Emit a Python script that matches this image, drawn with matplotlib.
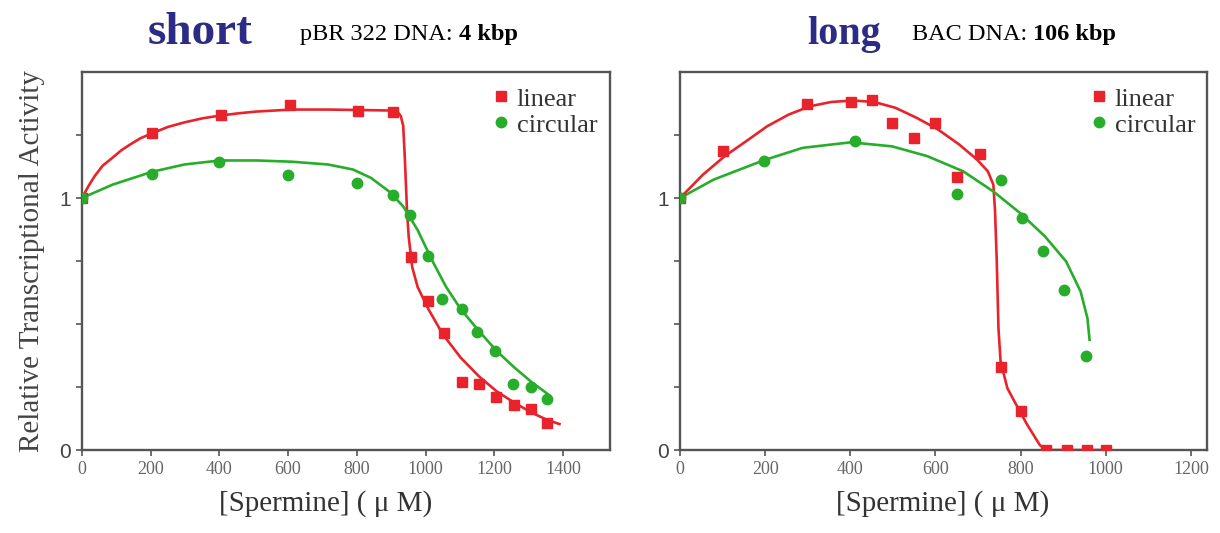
import matplotlib
matplotlib.use('Agg')
import matplotlib.pyplot as plt

# ---- short DNA (pBR322, 4 kbp) : measured points
s_lin_x = [0, 204, 405, 606, 804, 906, 958, 1006, 1053, 1107, 1157, 1205, 1257, 1306, 1355]
s_lin_y = [1.0, 1.257, 1.33, 1.37, 1.344, 1.343, 0.767, 0.59, 0.463, 0.269, 0.263, 0.209, 0.18, 0.163, 0.109]
s_cir_x = [0, 204, 400, 601, 801, 904, 954, 1006, 1048, 1107, 1149, 1201, 1254, 1306, 1353]
s_cir_y = [1.0, 1.097, 1.143, 1.091, 1.06, 1.011, 0.933, 0.769, 0.6, 0.56, 0.47, 0.393, 0.263, 0.249, 0.204]

# fitted curves
s_lin_fx = [0, 20, 37, 60, 89, 115, 141, 170, 204, 250, 298, 350, 402, 455, 507, 611, 716, 820,
            904, 918, 928, 935, 940, 946, 951, 961, 977, 1008, 1050, 1102, 1155, 1207, 1259,
            1311, 1353, 1390]
s_lin_fy = [1.0, 1.05, 1.087, 1.128, 1.16, 1.19, 1.213, 1.237, 1.257, 1.282, 1.30, 1.316, 1.327,
            1.336, 1.343, 1.351, 1.351, 1.349, 1.347, 1.343, 1.325, 1.287, 1.153, 0.953, 0.847,
            0.727, 0.647, 0.56, 0.46, 0.367, 0.293, 0.233, 0.187, 0.147, 0.12, 0.103]
s_cir_fx = [0, 89, 204, 298, 402, 507, 611, 716, 789, 841, 893, 935, 977, 1019, 1060, 1102,
            1155, 1207, 1259, 1311, 1358]
s_cir_fy = [1.0, 1.053, 1.104, 1.133, 1.149, 1.149, 1.144, 1.133, 1.113, 1.08, 1.027, 0.967,
            0.873, 0.753, 0.647, 0.56, 0.473, 0.393, 0.327, 0.267, 0.22]

# ---- long DNA (BAC, 106 kbp)
l_lin_x = [0, 100, 299, 401, 450, 499, 549, 600, 651, 704, 753, 800, 860, 908, 957, 1000]
l_lin_y = [1.0, 1.188, 1.375, 1.381, 1.389, 1.298, 1.238, 1.298, 1.083, 1.176, 0.331, 0.155, 0, 0, 0, 0]
l_cir_x = [0, 197, 410, 651, 755, 803, 853, 901, 953]
l_cir_y = [1.0, 1.146, 1.225, 1.017, 1.073, 0.921, 0.788, 0.633, 0.374]

l_lin_fx = [0, 54, 105, 155, 205, 255, 305, 355, 406, 456, 506, 556, 606, 656, 698, 723, 736,
            740, 744, 748, 753, 769, 790, 816, 845, 860, 1005]
l_lin_fy = [1.0, 1.093, 1.166, 1.225, 1.285, 1.331, 1.364, 1.381, 1.387, 1.381, 1.358, 1.318,
            1.272, 1.212, 1.152, 1.106, 1.053, 0.947, 0.748, 0.483, 0.351, 0.245, 0.179, 0.099,
            0.02, 0, 0]
l_cir_fx = [0, 79, 197, 288, 401, 498, 581, 665, 736, 799, 857, 907, 941, 957, 962]
l_cir_fy = [1.0, 1.073, 1.15, 1.199, 1.221, 1.205, 1.166, 1.106, 1.026, 0.94, 0.848, 0.748,
            0.629, 0.523, 0.437]

RED = '#e8232b'
GREEN = '#27ad2a'
GRAY = '#555555'
SERIF = 'Liberation Serif'

fig = plt.figure(figsize=(12.2, 5.33), dpi=100)
ax1 = fig.add_axes([0.0672, 0.1557, 0.4328, 0.7092])
ax2 = fig.add_axes([0.5574, 0.1557, 0.4320, 0.7092])


def draw(ax, lx, ly, cx, cy, lfx, lfy, cfx, cfy, xmax, xt, leg_x, xlab_x):
    ax.plot(lfx, lfy, color=RED, lw=1.9, zorder=2)
    ax.plot(cfx, cfy, color=GREEN, lw=1.9, zorder=2)
    ax.plot(lx, ly, 's', color=RED, ms=7, ls='none', zorder=3, label='linear')
    ax.plot(cx, cy, 'o', color=GREEN, ms=7.5, ls='none', zorder=3, label='circular')
    ax.set_xlim(0, xmax)
    ax.set_ylim(0, 1.5)
    ax.set_xticks(xt)
    ax.set_xticklabels([str(v) for v in xt], fontfamily=SERIF, fontsize=13, color='#666666')
    ax.set_yticks([0, 0.25, 0.5, 0.75, 1, 1.25])
    ax.set_yticklabels(['0', '', '', '', '1', ''], fontfamily='Liberation Sans', fontsize=15,
                       color='#444444')
    ax.tick_params(direction='out', length=4, width=1.2, color=GRAY, pad=4)
    for sp in ax.spines.values():
        sp.set_color(GRAY)
        sp.set_linewidth(1.7)
    leg = ax.legend(loc='upper left', bbox_to_anchor=(leg_x, 0.96), frameon=False,
                    prop={'family': SERIF, 'size': 19}, handletextpad=0.3,
                    labelspacing=0.1, handlelength=0.6, borderaxespad=0, borderpad=0)
    for t in leg.get_texts():
        t.set_color('#333333')
    ax.set_xlabel('[Spermine] ( μ M)', fontfamily=SERIF, fontsize=21, color='#333333')
    ax.xaxis.set_label_coords(xlab_x, -0.105)


draw(ax1, s_lin_x, s_lin_y, s_cir_x, s_cir_y, s_lin_fx, s_lin_fy, s_cir_fx, s_cir_fy,
     1537, [0, 200, 400, 600, 800, 1000, 1200, 1400], 0.778, 0.462)
draw(ax2, l_lin_x, l_lin_y, l_cir_x, l_cir_y, l_lin_fx, l_lin_fy, l_cir_fx, l_cir_fy,
     1238, [0, 200, 400, 600, 800, 1000, 1200], 0.78, 0.498)

ax1.set_ylabel('Relative Transcriptional Activity', fontfamily=SERIF, fontsize=21,
               color='#444444')
ax1.yaxis.set_label_coords(-0.07, 0.5)

# titles
fig.text(0.121, 0.918, 'short', fontfamily=SERIF, fontweight='bold', fontsize=34,
         color='#2c2c86', va='baseline')
t1 = fig.text(0.246, 0.925, 'pBR 322 DNA: ', fontfamily=SERIF, fontsize=17.5, va='baseline')
ax2.annotate('4 kbp', xy=(1, 0), xycoords=t1, va='bottom', fontfamily=SERIF, fontsize=17.5,
             fontweight='bold')

fig.text(0.662, 0.918, 'long', fontfamily=SERIF, fontweight='bold', fontsize=29,
         color='#2c2c86', va='baseline')
t2 = fig.text(0.7475, 0.925, 'BAC DNA: ', fontfamily=SERIF, fontsize=17.5, va='baseline')
ax2.annotate('106 kbp', xy=(1, 0), xycoords=t2, va='bottom', fontfamily=SERIF, fontsize=17.5,
             fontweight='bold')

fig.savefig('out.png', dpi=100)
